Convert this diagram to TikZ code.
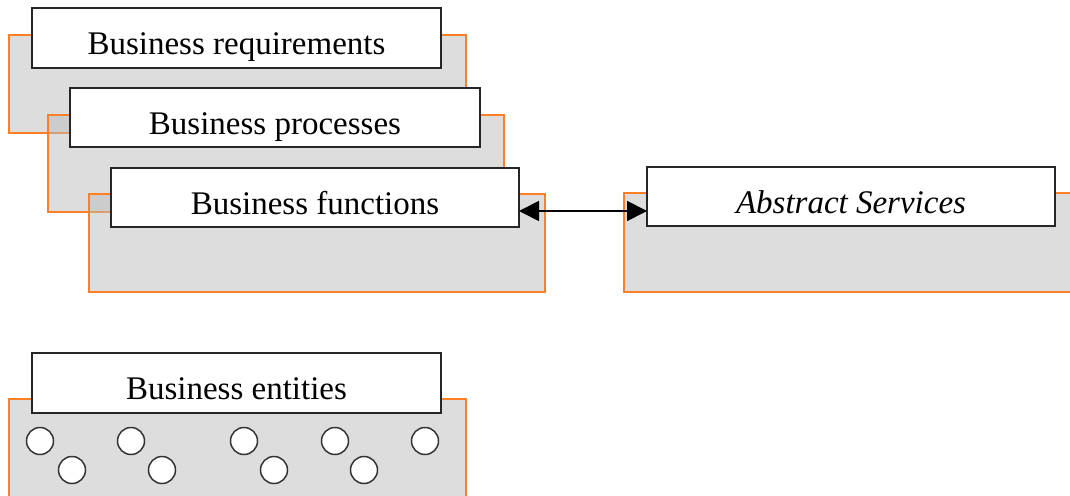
\documentclass[tikz,border=0pt]{standalone}
\usepackage{fontspec}
\setmainfont{Liberation Serif}
\usetikzlibrary{arrows.meta}
\definecolor{edgeorange}{HTML}{FF7F27}
\definecolor{panelgrey}{HTML}{BBBBBB}
\definecolor{ringgrey}{HTML}{333333}
\begin{document}
\begin{tikzpicture}[x=1pt,y=-1pt,
  panel/.style={draw=edgeorange, line width=1.6pt, fill=panelgrey, fill opacity=0.5,
    draw opacity=1, anchor=north west, inner sep=0pt, outer sep=0pt},
  titlebox/.style={draw=black!85, line width=1.8pt, fill=white, anchor=north west,
    inner sep=0pt, outer sep=0pt, text height=35pt, text depth=2pt,
    font=\fontsize{33}{38}\selectfont},
  entity/.style={circle, draw=ringgrey, line width=1.5pt, fill=white,
    minimum size=27pt, inner sep=0pt},
  link/.style={line width=1.8pt, {Triangle[length=20pt,width=20pt]}-{Triangle[length=20pt,width=20pt]}}
]
\useasboundingbox (0,0) rectangle (1070,495);

% stacked business layers
\node[panel, minimum width=457pt, minimum height=98pt] (reqpanel) at (9,35) {};
\node[titlebox, minimum width=409pt, minimum height=60pt] (req) at (32,8) {Business requirements};

\node[panel, minimum width=456pt, minimum height=97pt] (procpanel) at (48,115) {};
\node[titlebox, minimum width=410pt, minimum height=59pt] (proc) at (70,88) {Business processes};

\node[panel, minimum width=456pt, minimum height=98pt] (funcpanel) at (89,194) {};
\node[titlebox, minimum width=408pt, minimum height=59pt] (func) at (111,168) {Business functions};

% service layer
\node[panel, minimum width=470pt, minimum height=99pt] (abspanel) at (624,193) {};
\node[titlebox, minimum width=408pt, minimum height=59pt] (abs) at (647,167) {\itshape Abstract Services};

\coordinate (linkL) at ([yshift=-13.5pt]func.east);
\draw[link] (linkL) -- (linkL -| abs.west);

% entities
\node[panel, minimum width=457pt, minimum height=110pt] (entpanel) at (9,399) {};
\node[titlebox, minimum width=409pt, minimum height=60pt] (ent) at (32,353) {Business entities};

\foreach \n/\x/\y in {e1/40/441, e2/72/470, e3/131/441, e4/162/470, e5/244/441,
                      e6/274/470, e7/335/441, e8/364/470, e9/425/441}
  \node[entity] (\n) at (\x,\y) {};
\end{tikzpicture}
\end{document}
